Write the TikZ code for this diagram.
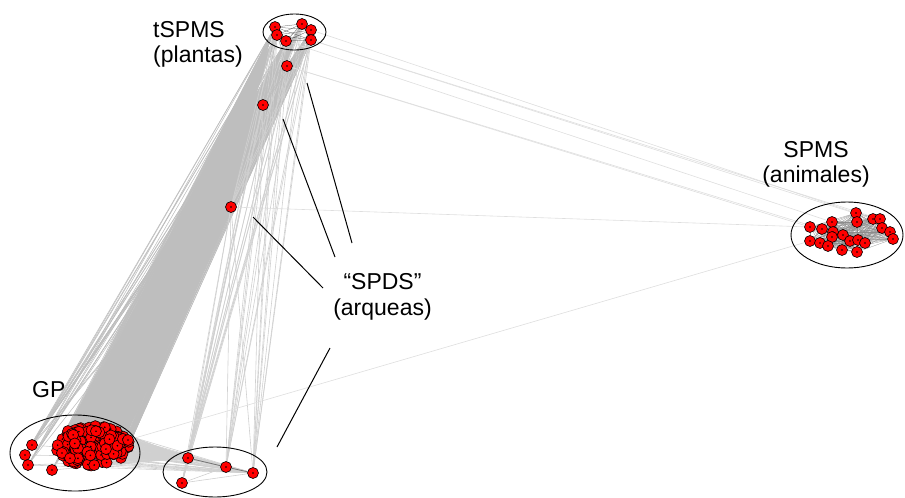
\documentclass[tikz,border=0pt]{standalone}
\usepackage{fontspec}
\setmainfont{Liberation Sans}
\usetikzlibrary{backgrounds}
\definecolor{edgegray}{RGB}{190,190,190}
\definecolor{lightedge}{RGB}{208,208,208}
\definecolor{faintedge}{RGB}{222,222,222}
\definecolor{nodered}{RGB}{255,0,0}
\begin{document}
\begin{tikzpicture}[x=1pt,y=-1pt,
  vnode/.style={circle,fill=nodered,draw=black,line width=0.6pt,minimum size=11pt,inner sep=0pt,
    path picture={\fill[black] (path picture bounding box.center) circle (0.9pt);}},
  bandedge/.style={draw=edgegray,line width=0.55pt},
  lightline/.style={draw=lightedge,line width=0.6pt},
  faintline/.style={draw=faintedge,line width=0.6pt},
  inner/.style={draw=black!70,line width=0.25pt},
  spmsedge/.style={draw=black!45,line width=0.25pt},
  group/.style={draw=black,line width=0.9pt},
  leader/.style={draw=black,line width=1pt},
  lbl/.style={font=\fontsize{23}{25}\selectfont,inner sep=0pt}]
\useasboundingbox (0,0) rectangle (905,498);

% tSPMS cluster
\node[vnode] (t1) at (275,27) {};
\node[vnode] (t2) at (302,24) {};
\node[vnode] (t3) at (311,30) {};
\node[vnode] (t4) at (277,35) {};
\node[vnode] (t5) at (286,41) {};
\node[vnode] (t6) at (311,40) {};
% intermediate SPDS nodes
\node[vnode] (m1) at (287,66) {};
\node[vnode] (m2) at (263,105) {};
\node[vnode] (m3) at (231,207) {};
% bottom SPDS nodes
\node[vnode] (b1) at (188,458) {};
\node[vnode] (b2) at (226,467) {};
\node[vnode] (b3) at (253,473) {};
\node[vnode] (b4) at (182,483) {};
% SPMS cluster
\node[vnode] (s1) at (856,213) {};
\node[vnode] (s2) at (857,222) {};
\node[vnode] (s3) at (873,219) {};
\node[vnode] (s4) at (880,219) {};
\node[vnode] (s5) at (832,222) {};
\node[vnode] (s6) at (810,227) {};
\node[vnode] (s7) at (822,229) {};
\node[vnode] (s8) at (833,232) {};
\node[vnode] (s9) at (832,237) {};
\node[vnode] (s10) at (843,235) {};
\node[vnode] (s11) at (882,228) {};
\node[vnode] (s12) at (890,232) {};
\node[vnode] (s13) at (893,239) {};
\node[vnode] (s14) at (810,241) {};
\node[vnode] (s15) at (820,243) {};
\node[vnode] (s16) at (828,246) {};
\node[vnode] (s17) at (850,241) {};
\node[vnode] (s18) at (858,240) {};
\node[vnode] (s19) at (865,243) {};
\node[vnode] (s20) at (842,250) {};
\node[vnode] (s21) at (857,252) {};
% GP cluster
\pgfmathsetseed{4711}
\foreach \i in {1,...,135}{
  \pgfmathsetmacro{\ang}{360*rnd}
  \pgfmathsetmacro{\rad}{sqrt(rnd)}
  \pgfmathsetmacro{\gx}{92+38*\rad*cos(\ang)}
  \pgfmathsetmacro{\gy}{446+20*\rad*sin(\ang)}
  \node[vnode] (g\i) at (\gx,\gy) {};
}
\node[vnode] (g136) at (32,445) {};
\node[vnode] (g137) at (25,455) {};
\node[vnode] (g138) at (28,465) {};
\node[vnode] (g139) at (52,470) {};
\node[vnode] (g140) at (128,440) {};

\begin{scope}[on background layer]
  % dense band tSPMS / SPDS -> GP
  \foreach \t in {t1,t2,t3,t4,t5,t6,m1,m2,m3}{
    \foreach \i in {1,...,140}{ \draw[bandedge] (\t) -- (g\i); }
  }
  % GP -> bottom SPDS
  \foreach \i in {1,...,140}{ \draw[lightline] (g\i) -- (b1); }
  \foreach \i in {2,6,...,140}{ \draw[lightline] (g\i) -- (b3); }
  % tSPMS / SPDS -> bottom SPDS
  \foreach \t in {t1,t2,t3,t4,t5,t6,m1,m2,m3}{
    \foreach \b in {b1,b2,b3,b4}{ \draw[lightline] (\t) -- (\b); }
  }
  \foreach \t in {t1,t2,t3,t4,t5,t6}{
    \draw[bandedge] (\t) -- (m1);
    \draw[bandedge] (\t) -- (m2);
    \draw[lightline] (\t) -- (m3);
  }
  % bottom SPDS internal
  \draw[draw=black!55,line width=0.8pt] (b1) -- (b2) -- (b3);
  \draw[lightline] (b4) -- (b1);
  \draw[lightline] (b4) -- (b2);
  \draw[lightline] (b4) -- (b3);
  % tSPMS internal
  \foreach \a/\b in {t1/t2,t1/t3,t1/t4,t1/t5,t1/t6,t2/t3,t2/t4,t2/t5,t2/t6,t3/t4,t3/t5,t3/t6,t4/t5,t4/t6,t5/t6}{
    \draw[inner] (\a) -- (\b);
  }
  % SPMS internal
  \foreach \a in {1,...,21}{
    \foreach \b in {1,...,21}{
      \ifnum\a<\b \draw[spmsedge] (s\a) -- (s\b); \fi
    }
  }
  % long faint edges to SPMS
  \draw[faintline] (t3) -- (s1);
  \draw[faintline] (t6) -- (s3);
  \draw[faintline] (t6) -- (s4);
  \draw[faintline] (t5) -- (s5);
  \draw[faintline] (m1) -- (s6);
  \draw[faintline] (m1) -- (s7);
  \draw[faintline] (m3) -- (s6);
  \draw[faintline] (g140) -- (s14);
\end{scope}

% group ellipses
\draw[group] (294.5,32) ellipse (31.5 and 18);
\draw[group] (75,453) ellipse (65 and 38);
\draw[group] (215,472) ellipse (52 and 25);
\draw[group] (847,235) ellipse (56 and 33);

% labels
\node[lbl,anchor=base west] (lt1) at (153,37) {tSPMS};
\node[lbl,anchor=base west] (lt2) at (153,62) {(plantas)};
\node[lbl,anchor=base] (ls1) at (816,157) {SPMS};
\node[lbl,anchor=base] (ls2) at (816,182) {(animales)};
\node[lbl,anchor=base] (ld1) at (382.5,289) {“SPDS”};
\node[lbl,anchor=base] (ld2) at (382.5,315) {(arqueas)};
\node[lbl,anchor=base west] (lg) at (32,397) {GP};

% leader lines
\coordinate (l1a) at (307,83);  \coordinate (l1b) at (352,243);
\coordinate (l2a) at (283,119); \coordinate (l2b) at (335,257);
\coordinate (l3a) at (253,217); \coordinate (l3b) at (323,288);
\coordinate (l4a) at (330,348); \coordinate (l4b) at (277,447);
\draw[leader] (l1a) -- (l1b);
\draw[leader] (l2a) -- (l2b);
\draw[leader] (l3a) -- (l3b);
\draw[leader] (l4a) -- (l4b);
\end{tikzpicture}
\end{document}
